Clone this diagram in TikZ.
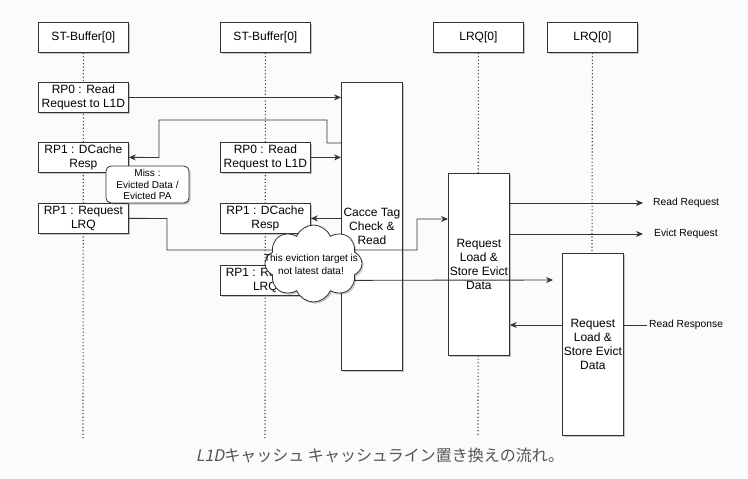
\documentclass[tikz,border=0pt]{standalone}
\usepackage{fontspec}
\setmainfont{Liberation Sans}
\newfontfamily\jp{Noto Sans CJK JP}
\newfontfamily\jpit[FakeSlant=0.2]{Noto Sans CJK JP}
\usetikzlibrary{shapes.symbols,shadows,arrows.meta}
\definecolor{bg}{RGB}{251,251,251}
\definecolor{edge}{RGB}{51,51,51}
\definecolor{capgray}{RGB}{85,85,85}
\tikzset{
  box/.style={draw=edge, line width=0.8pt, fill=white, inner sep=0pt, align=center,
    anchor=north west, font=\fontsize{12}{14}\selectfont,
    drop shadow={shadow xshift=1.6pt, shadow yshift=-1.6pt, fill=black, opacity=0.22}},
  hdr/.style={box, minimum width=90pt, minimum height=30pt},
  msg/.style={box, minimum width=90pt, minimum height=30pt},
  act/.style={box, minimum width=61pt},
  life/.style={draw=edge!90, line width=1.1pt, dash pattern=on 1.2pt off 2.2pt},
  conn/.style={draw=edge, line width=0.9pt},
  arr/.style={conn, -{Stealth[length=7pt,width=6pt]}},
  lbl/.style={font=\fontsize{10.3}{12}\selectfont, inner sep=0pt, anchor=west},
  note/.style={draw=edge, line width=0.8pt, fill=white, rounded corners=5pt, align=center,
    inner sep=0pt, font=\fontsize{10}{11.7}\selectfont,
    drop shadow={shadow xshift=1.6pt, shadow yshift=-1.6pt, fill=black, opacity=0.22}},
}
\begin{document}
\begin{tikzpicture}[x=1pt,y=-1pt]
\useasboundingbox[fill=bg] (0,0) rectangle (748,479);

% headers
\node[hdr] (h1) at (38,22) {ST-Buffer[0]};
\node[hdr] (h2) at (220,22) {ST-Buffer[0]};
\node[hdr] (h3) at (433,22) {LRQ[0]};
\node[hdr] (h4) at (547,22) {LRQ[0]};

% lifeline ends
\coordinate (e1) at (83,440);
\coordinate (e2) at (265,440);
\coordinate (e3) at (478,436);
\coordinate (e4) at (592,253);
\draw[life] (h1.south) -- (e1);
\draw[life] (h2.south) -- (e2);
\draw[life] (h3.south) -- (e3);
\draw[life] (h4.south) -- (e4);

% column 1 boxes
\node[msg] (a1) at (38,82) {RP0 : Read\\Request to L1D};
\node[msg] (a2) at (38,142) {RP1 : DCache\\Resp};
\node[msg] (a3) at (38,203) {RP1 : Request\\LRQ};

% column 2 boxes
\node[msg] (b1) at (220,142) {RP0 : Read\\Request to L1D};
\node[msg] (b2) at (220,203) {RP1 : DCache\\Resp};
\node[msg] (b3) at (220,265) {RP1 : Request\\LRQ};

% activation boxes
\node[act, minimum height=288pt] (tag) at (341,82) {Cacce Tag\\Check \&\\Read};
\node[act, minimum height=182pt] (q1) at (448,173) {Request\\Load \&\\Store Evict\\Data};
\node[act, minimum height=182pt] (q2) at (562,253) {Request\\Load \&\\Store Evict\\Data};

% miss note
\node[note, minimum width=83pt, minimum height=37pt] (miss) at (147.5,184.5) {Miss :\\Evicted Data /\\Evicted PA};

% connectors
\draw[arr] (a1.east) -- (tag.west |- a1.east);
\draw[arr] (tag.west |- 0,143) -- (327,143) -- (327,120) -- (159,120) -- (159,157.5) -- (a2.east);
\draw[arr] (b1.east) -- (tag.west |- b1.east);
\draw[arr] (tag.west |- b2.east) -- (b2.east);
\draw[arr] (a3.east) -- (167,218.5) -- (167,250) -- (417,250) -- (417,219) -- (q1.west |- 0,219);
\coordinate (q2in) at (553,280);
\draw[arr] (b3.east) -- (q2in);

\coordinate (rr) at (643,203);
\coordinate (er) at (643,234);
\draw[arr] (q1.east |- rr) -- (rr);
\draw[arr] (q1.east |- er) -- (er);
\node[lbl] (lrr) at (653,203) {Read Request};
\node[lbl] (ler) at (654,234) {Evict Request};
\node[lbl] (lresp) at (649,325) {Read Response};
\draw[conn] (q2.east |- lresp.west) -- ([xshift=-2pt]lresp.west);
\draw[arr] (q2.west |- 0,325) -- (q1.east |- 0,325);

% cloud
\node[cloud, cloud puffs=8, cloud puff arc=135, aspect=1.25, draw=edge, line width=0.8pt,
  fill=white, minimum width=97pt, minimum height=77pt, inner sep=0pt,
  drop shadow={shadow xshift=1.6pt, shadow yshift=-1.6pt, fill=black, opacity=0.22}] (cl) at (313.5,263.5) {};
\node[align=center, inner sep=0pt, font=\fontsize{10}{13.5}\selectfont] (clt) at (311,264.5) {This eviction target is\\not latest data!};

% caption
\node[inner sep=0pt, text=capgray, font=\fontsize{16}{18}\selectfont] (cap) at (380,455) {{\jpit L1D}\jp キャッシュ キャッシュライン置き換えの流れ。};
\end{tikzpicture}
\end{document}
